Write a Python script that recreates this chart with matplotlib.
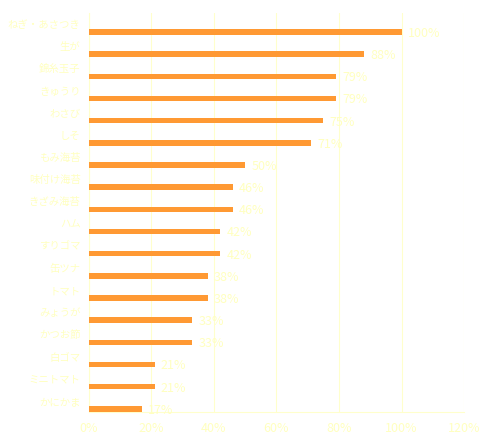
import matplotlib
matplotlib.use("Agg")
import matplotlib.pyplot as plt
import numpy as np

plt.rcParams['font.family'] = ['Noto Sans CJK JP', 'DejaVu Sans']

categories = ["ねぎ・あさつき", "生が", "錦糸玉子", "きゅうり", "わさび", "しそ",
              "もみ海苔", "味付け海苔", "きざみ海苔", "ハム", "すりゴマ", "缶ツナ",
              "トマト", "みょうが", "かつお節", "白ゴマ", "ミニトマト", "かにかま"]
values = [100, 88, 79, 79, 75, 71, 50, 46, 46, 42, 42, 38, 38, 33, 33, 21, 21, 17]
xticks = [0, 20, 40, 60, 80, 100, 120]

bar_color = "#ff9933"
text_color = "#ffffc0"
grid_color = "#ffffcc"

fig = plt.figure(figsize=(4.96, 4.48), dpi=100)
ax = fig.add_axes([0.1794, 0.0804, 0.7561, 0.8906])

pos = np.arange(len(categories))
ax.barh(pos + 0.36, values, height=0.25, color=bar_color, zorder=3)
for p, v in zip(pos, values):
    ax.text(v + 2, p + 0.42, f"{v}%", color=text_color, fontsize=9,
            va="center", ha="left", zorder=4)

ax.set_xlim(0, 120)
ax.set_ylim(len(categories) - 0.5, -0.5)
ax.set_yticks(pos)
ax.set_yticklabels(categories, color=text_color, fontsize=7.5)
ax.set_xticks(xticks)
ax.set_xticklabels([f"{t}%" for t in xticks], color=text_color, fontsize=9)
ax.tick_params(length=0, pad=6)
ax.tick_params(axis="x", pad=7)
ax.grid(axis="x", color=grid_color, linewidth=0.8, zorder=0)
for s in ["top", "right"]:
    ax.spines[s].set_visible(False)
ax.spines["left"].set_color(grid_color)
ax.spines["bottom"].set_color(grid_color)

fig.savefig("out.png", dpi=100)
